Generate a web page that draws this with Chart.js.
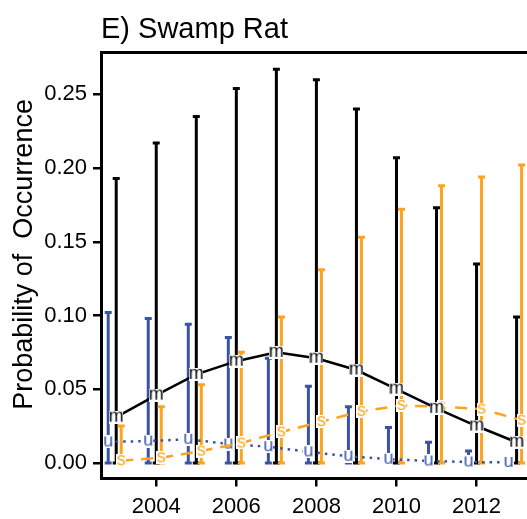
<!DOCTYPE html>
<html>
<head>
<meta charset="utf-8">
<script src="https://cdn.jsdelivr.net/npm/chart.js@4"></script>
<style>
  html, body { margin: 0; padding: 0; background: #fff; }
  #wrap { width: 527px; height: 519px; }
</style>
</head>
<body>
<div id="wrap"><canvas id="chart" width="527" height="519"></canvas></div>
<script>
// data
const years = [2003, 2004, 2005, 2006, 2007, 2008, 2009, 2010, 2011, 2012, 2013];

const mMean  = [0.031, 0.046, 0.060, 0.069, 0.075, 0.071, 0.063, 0.050, 0.037, 0.025, 0.014];
const mUpper = [0.193, 0.217, 0.235, 0.254, 0.267, 0.260, 0.240, 0.207, 0.173, 0.135, 0.099];
const mLower = [0, 0, 0, 0, 0, 0, 0, 0, 0, 0, 0];

const uMean  = [0.0142, 0.0148, 0.016, 0.0128, 0.011, 0.0075, 0.0045, 0.0025, 0.0013, 0.0006, 0.0003];
const uUpper = [0.102, 0.098, 0.094, 0.085, 0.071, 0.052, 0.038, 0.024, 0.014, 0.008, 0.002];
const uLower = [0, 0, 0, 0, 0, 0, 0, 0, 0, 0, 0];

const sMean  = [0.0015, 0.0035, 0.008, 0.0135, 0.021, 0.028, 0.035, 0.039, 0.038, 0.0365, 0.029];
const sUpper = [0.025, 0.038, 0.053, 0.075, 0.099, 0.131, 0.153, 0.172, 0.188, 0.194, 0.202];
const sLower = [0, 0, 0, 0, 0, 0, 0, 0, 0, 0, 0];

const xTicks = [2004, 2006, 2008, 2010, 2012];
const yTicks = [0, 0.05, 0.10, 0.15, 0.20, 0.25];

const FONT = '"Liberation Sans", Arial, sans-serif';
const BLUE = '#3a54a4';
const ORANGE = '#fba41c';

// letters used as point markers, on a small white patch
const letter = (ch, color, w) => {
  const c = document.createElement('canvas');
  c.width = w;
  c.height = 13;
  const g = c.getContext('2d');
  g.fillStyle = '#fff';
  g.fillRect(0, 0, w, 13);
  g.font = '18px ' + FONT;
  g.fillStyle = color;
  g.textAlign = 'center';
  g.textBaseline = 'alphabetic';
  g.fillText(ch, w / 2, 11.2);
  return c;
};

const points = (vals, off) => years.map((yr, i) => ({ x: yr + off, y: vals[i] }));

const errorBars = {
  id: 'errorBars',
  beforeDatasetsDraw(chart) {
    const { ctx, scales: { x, y } } = chart;
    chart.data.datasets.forEach((ds) => {
      ctx.save();
      ctx.strokeStyle = ds.borderColor;
      ctx.lineWidth = 3;
      ds.data.forEach((pt, i) => {
        const px = x.getPixelForValue(pt.x);
        const top = y.getPixelForValue(ds.hi[i]);
        const bot = y.getPixelForValue(ds.lo[i]);
        ctx.beginPath();
        ctx.moveTo(px, top);
        ctx.lineTo(px, bot);
        ctx.moveTo(px - 3.5, top);
        ctx.lineTo(px + 3.5, top);
        ctx.moveTo(px - 3.5, bot);
        ctx.lineTo(px + 3.5, bot);
        ctx.stroke();
      });
      ctx.restore();
    });
  },
};

new Chart(document.getElementById('chart'), {
  type: 'line',
  data: {
    datasets: [
      {
        label: 'm',
        data: points(mMean, 0),
        hi: mUpper,
        lo: mLower,
        borderColor: '#000',
        borderWidth: 2.5,
        pointStyle: letter('m', '#000', 14),
        pointRadius: 5,
      },
      {
        label: 's',
        data: points(sMean, 0.125),
        hi: sUpper,
        lo: sLower,
        borderColor: ORANGE,
        borderWidth: 2.5,
        borderDash: [12, 8],
        pointStyle: letter('s', ORANGE, 10),
        pointRadius: 5,
      },
      {
        label: 'u',
        data: points(uMean, -0.2),
        hi: uUpper,
        lo: uLower,
        borderColor: BLUE,
        borderWidth: 2.5,
        borderDash: [2.5, 5],
        pointStyle: letter('u', BLUE, 10),
        pointRadius: 5,
      },
    ],
  },
  options: {
    responsive: false,
    animation: false,
    layout: { autoPadding: false, padding: { top: 0, right: 0, bottom: 0, left: 5 } },
    plugins: {
      legend: { display: false },
      tooltip: { enabled: false },
      title: {
        display: true,
        text: 'E) Swamp Rat',
        align: 'start',
        fullSize: false,
        color: '#000',
        font: { family: FONT, size: 29, weight: 'normal' },
        padding: { top: 13, bottom: 5 },
      },
    },
    scales: {
      x: {
        type: 'linear',
        position: 'bottom',
        min: 2002.62,
        max: 2013.26,
        afterBuildTicks: (s) => { s.ticks = xTicks.map((v) => ({ value: v })); },
        afterFit: (s) => { s.height = 40.5; },
        ticks: {
          color: '#000',
          font: { family: FONT, size: 22 },
          padding: 7,
          maxRotation: 0,
          autoSkip: false,
          callback: (v) => String(v),
        },
        grid: { drawOnChartArea: false, drawTicks: true, tickLength: 8, color: '#000', lineWidth: 2.5 },
        border: { display: true, color: '#000', width: 3 },
      },
      xTop: {
        type: 'linear',
        position: 'top',
        min: 2002.62,
        max: 2013.26,
        ticks: { display: false },
        grid: { display: false, drawTicks: false },
        border: { display: true, color: '#000', width: 3 },
      },
      y: {
        min: -0.0106,
        max: 0.2782,
        afterBuildTicks: (s) => { s.ticks = yTicks.map((v) => ({ value: v })); },
        afterFit: (s) => { s.width = 96; },
        ticks: {
          color: '#000',
          font: { family: FONT, size: 22 },
          padding: 6,
          callback: (v) => v.toFixed(2),
        },
        grid: { drawOnChartArea: false, drawTicks: true, tickLength: 8, color: '#000', lineWidth: 2.5 },
        border: { display: true, color: '#000', width: 3 },
        title: {
          display: true,
          text: '   Probability of  Occurrence',
          color: '#000',
          font: { family: FONT, size: 27 },
          padding: { top: 3, bottom: 4 },
        },
      },
    },
  },
  plugins: [errorBars],
});
</script>
</body>
</html>
